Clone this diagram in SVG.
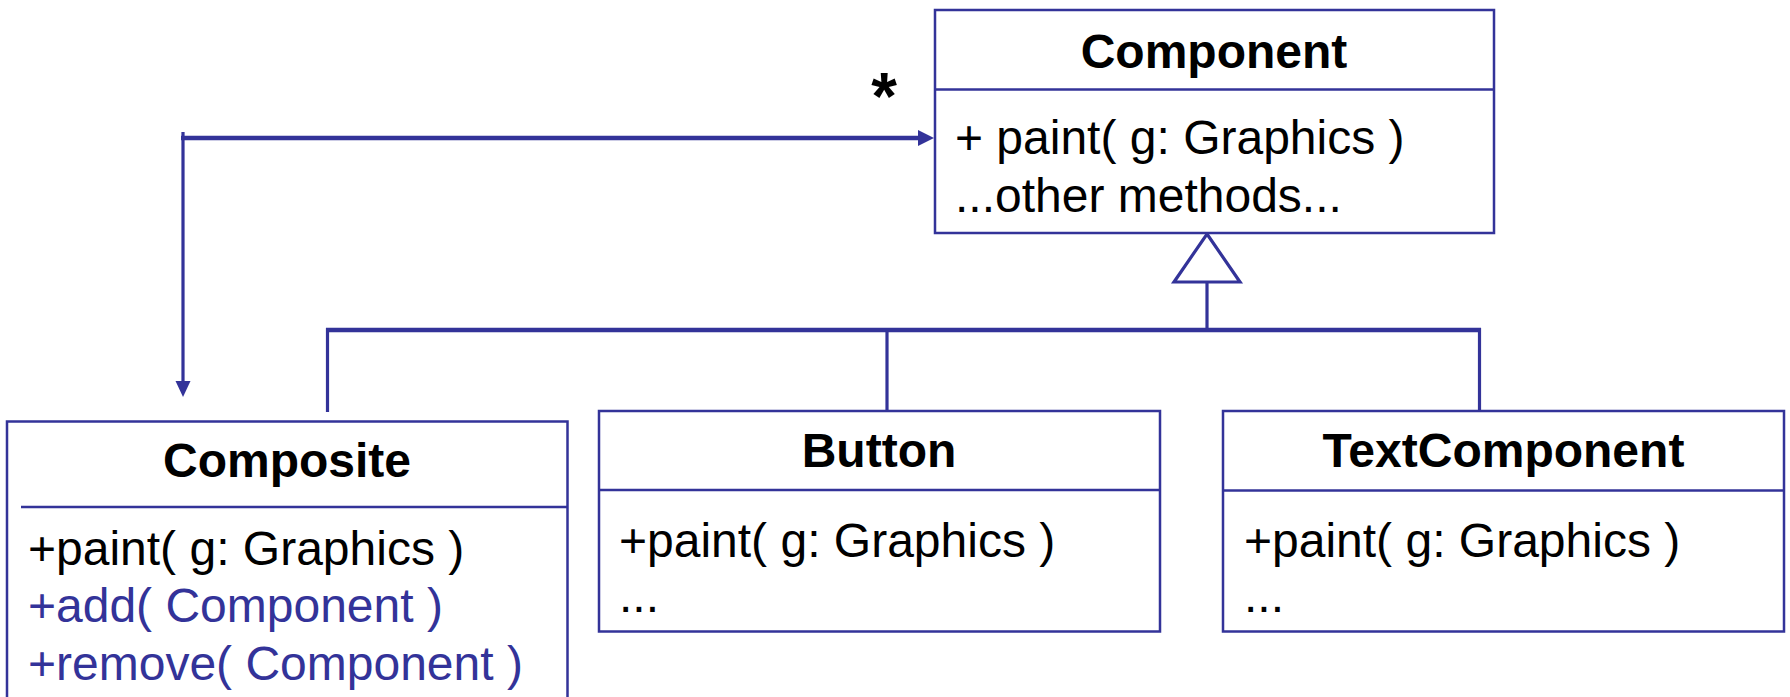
<svg xmlns="http://www.w3.org/2000/svg" width="1790" height="697" viewBox="0 0 1790 697">
<defs>
<style>
.box{fill:#fff;stroke:#333399;stroke-width:2.5}
.div{stroke:#333399;stroke-width:2.5}
.t{font-family:"Liberation Sans",Arial,sans-serif;font-size:48px;fill:#000}
.b{font-weight:bold;text-anchor:middle}
.blue{fill:#333399}
.star{font-size:66px;font-weight:bold;text-anchor:middle}
.h{stroke:#333399;stroke-width:4.5;fill:none}
.v{stroke:#333399;stroke-width:3.2;fill:none}
</style>
</defs>
<rect width="1790" height="697" fill="#fff"/>
<g id="connectors">
<line class="h" x1="181" y1="138" x2="918" y2="138"/>
<path d="M918,130 L934,138 L918,146 z" fill="#333399"/>
<line class="v" x1="183" y1="132" x2="183" y2="382"/>
<path d="M175.5,381 L183,397 L190.5,381 z" fill="#333399"/>
<line class="h" x1="326" y1="330" x2="1481" y2="330"/>
<line class="v" x1="327.5" y1="328" x2="327.5" y2="412"/>
<line class="v" x1="887" y1="330" x2="887" y2="411"/>
<line class="v" x1="1479.5" y1="328" x2="1479.5" y2="411"/>
<line class="v" x1="1207" y1="282" x2="1207" y2="330"/>
<path d="M1207,234 L1240,282 L1174,282 z" fill="#fff" stroke="#333399" stroke-width="3.2"/>
<text class="t star" x="884" y="119">*</text>
</g>
<g id="component">
<rect class="box" x="935" y="10" width="559" height="223"/>
<line class="div" x1="935" y1="89.5" x2="1494" y2="89.5"/>
<text class="t b" x="1214" y="68">Component</text>
<text class="t" x="955" y="154">+ paint( g: Graphics )</text>
<text class="t" x="955" y="212">...other methods...</text>
</g>
<g id="composite">
<path class="box" d="M7,705 L7,421.5 L567.5,421.5 L567.5,705"/>
<line class="div" x1="21" y1="507" x2="567.5" y2="507"/>
<text class="t b" x="287" y="477">Composite</text>
<text class="t" x="28" y="565">+paint( g: Graphics )</text>
<text class="t blue" x="28" y="622">+add( Component )</text>
<text class="t blue" x="28" y="680">+remove( Component )</text>
</g>
<g id="button">
<rect class="box" x="599" y="411" width="561" height="220.5"/>
<line class="div" x1="599" y1="490" x2="1160" y2="490"/>
<text class="t b" x="879" y="467">Button</text>
<text class="t" x="619" y="557">+paint( g: Graphics )</text>
<text class="t" x="619" y="612">...</text>
</g>
<g id="textcomponent">
<rect class="box" x="1223" y="411" width="561" height="220.5"/>
<line class="div" x1="1223" y1="490.5" x2="1784" y2="490.5"/>
<text class="t b" x="1503.5" y="467">TextComponent</text>
<text class="t" x="1244" y="557">+paint( g: Graphics )</text>
<text class="t" x="1244" y="612">...</text>
</g>
</svg>
